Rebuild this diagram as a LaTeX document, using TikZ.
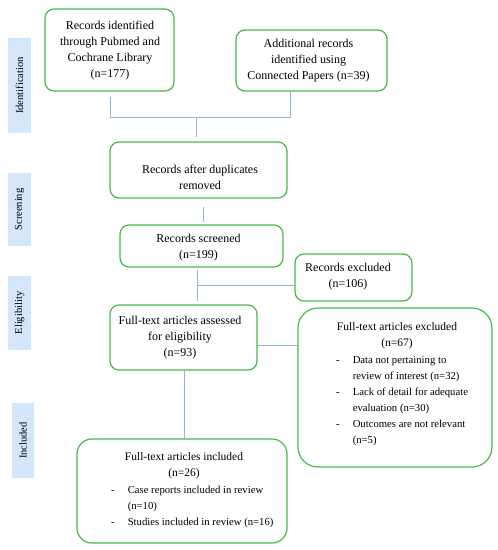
\documentclass[tikz,border=0pt]{standalone}
\usepackage{fontspec}
\setmainfont{Liberation Serif}
\definecolor{boxgreen}{RGB}{70,185,75}
\definecolor{connblue}{RGB}{140,180,220}
\definecolor{sidefill}{RGB}{212,230,250}
\tikzset{
 box/.style={draw=boxgreen, line width=1.2pt, rounded corners=9pt, inner sep=0pt, outer sep=0pt},
 conn/.style={draw=connblue, line width=1pt},
 side/.style={fill=sidefill, inner sep=0pt, rotate=90, minimum height=23pt, font=\fontsize{10.5}{12}\selectfont},
 txt/.style={align=center, font=\fontsize{12}{16}\selectfont, inner sep=0pt},
 ttl/.style={align=center, font=\fontsize{11.5}{16}\selectfont, inner sep=0pt},
 lst/.style={anchor=base west, inner sep=0pt, font=\fontsize{10.7}{16}\selectfont},
}
\begin{document}
\begin{tikzpicture}[x=1pt,y=-1pt]
\useasboundingbox (0,0) rectangle (498,550);
% side labels
\node[side, minimum width=95pt] (s1) at (19.5,85.5) {Identification};
\node[side, minimum width=73pt] (s2) at (19.5,209.5) {Screening};
\node[side, minimum width=74pt] (s3) at (19.5,313) {Eligibility};
\node[side, minimum width=75pt, minimum height=22pt] (s4) at (23,440.5) {Included};
% boxes
\node[box, minimum width=129pt, minimum height=82pt] (A) at (109.5,50) {};
\node[box, minimum width=151pt, minimum height=61pt] (B) at (311.5,60.5) {};
\node[box, minimum width=177pt, minimum height=56pt] (C) at (198.5,170) {};
\node[box, minimum width=163pt, minimum height=42pt] (D) at (201.5,246) {};
\node[box, minimum width=117pt, minimum height=47pt] (E) at (353.5,277.5) {};
\node[box, minimum width=147pt, minimum height=65pt] (F) at (183.5,337.5) {};
\node[box, rounded corners=20pt, minimum width=194pt, minimum height=159pt] (G) at (395,387.5) {};
\node[box, rounded corners=15pt, minimum width=210pt, minimum height=104pt] (H) at (182,491) {};
% texts
\node[txt] (At) at (110,51) {Records identified\\through Pubmed and\\Cochrane Library\\(n=177)};
\node[txt] (Bt) at (308.5,61) {Additional records\\identified using\\Connected Papers (n=39)};
\node[txt] (Ct) at (200,177.5) {Records after duplicates\\removed};
\node[txt] (Dt) at (198.5,248) {Records screened\\(n=199)};
\node[txt] (Et) at (348,277) {Records excluded\\(n=106)};
\node[txt] (Ft) at (180,337.5) {Full-text articles assessed\\for eligibility\\(n=93)};
\node[ttl] (Gt) at (397,336) {Full-text articles excluded\\(n=67)};
\node[lst] (Gl) at (336,363) {\begin{tabular}[t]{@{}l@{\hspace{13pt}}l@{}}
- & Data not pertaining to\\
 & review of interest (n=32)\\
- & Lack of detail for adequate\\
 & evaluation (n=30)\\
- & Outcomes are not relevant\\
 & (n=5)
\end{tabular}};
\node[ttl] (Ht) at (184,466) {Full-text articles included\\(n=26)};
\node[lst] (Hl) at (111,493) {\begin{tabular}[t]{@{}l@{\hspace{13pt}}l@{}}
- & Case reports included in review\\
 & (n=10)\\
- & Studies included in review (n=16)
\end{tabular}};
% connectors
\coordinate (a1) at (110,97);
\coordinate (b1) at (290,91);
\coordinate (j1) at (196,117);
\coordinate (j1e) at (196,137);
\draw[conn] (a1) |- (b1 |- j1) -- (b1);
\draw[conn] (j1) -- (j1e);
\coordinate (c1) at (203,207);
\coordinate (c2) at (203,222);
\draw[conn] (c1) -- (c2);
\coordinate (d1) at (197,270);
\coordinate (d2) at (197,301);
\coordinate (d3) at (197,285);
\draw[conn] (d1) -- (d2);
\draw[conn] (d3) -- (d3 -| E.west);
\coordinate (f1) at (257,345);
\draw[conn] (f1) -- (f1 -| G.west);
\coordinate (f2) at (184,370);
\draw[conn] (f2) -- (f2 |- H.north);
\end{tikzpicture}
\end{document}
